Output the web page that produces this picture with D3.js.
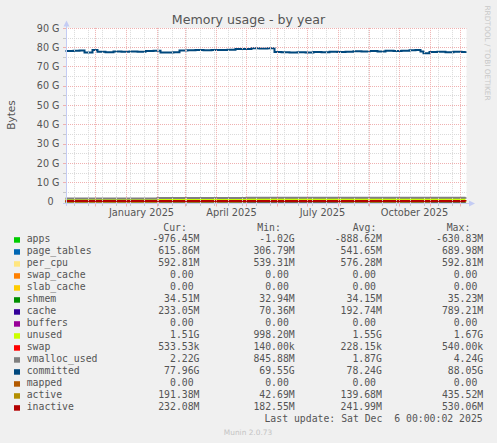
<!DOCTYPE html>
<html>
<head>
<meta charset="utf-8">
<script src="https://cdn.jsdelivr.net/npm/d3@7"></script>
<style>
body { margin: 0; background: #f0f0f0; }
text { white-space: pre; }
</style>
</head>
<body>
<div id="chart"></div>
<script>
// values in G (1e9 bytes)

// committed (the only line far away from zero)
const committedDays = ["2024-11-01","2024-11-09","2024-11-15","2024-11-20","2024-11-25","2024-11-28",
  "2024-12-03","2024-12-11","2024-12-19","2024-12-27","2025-01-04","2025-01-12","2025-01-20","2025-01-28",
  "2025-02-04","2025-02-11","2025-02-17","2025-02-23","2025-03-03","2025-03-11","2025-03-19","2025-03-27",
  "2025-04-04","2025-04-12","2025-04-20","2025-04-28","2025-05-06","2025-05-14","2025-05-22","2025-05-27",
  "2025-05-29","2025-06-05","2025-06-13","2025-06-21","2025-06-29","2025-07-07","2025-07-15","2025-07-23",
  "2025-07-31","2025-08-08","2025-08-16","2025-08-24","2025-09-01","2025-09-09","2025-09-17","2025-09-25",
  "2025-10-03","2025-10-11","2025-10-17","2025-10-22","2025-10-25","2025-10-31","2025-11-08","2025-11-16",
  "2025-11-24","2025-12-02","2025-12-06"];
const committedG = [78.0, 78.1, 78.3, 77.2, 77.3, 78.5,
  77.6, 77.4, 77.8, 77.6, 77.8, 77.7, 78.0, 78.1,
  77.3, 77.2, 77.4, 78.3, 78.4, 78.5, 78.4, 78.6,
  78.5, 78.7, 79.0, 79.1, 79.4, 79.3, 79.5, 79.5,
  77.5, 77.4, 77.2, 77.4, 77.3, 77.5, 77.4, 77.6,
  77.5, 77.7, 77.9, 77.8, 78.0, 77.8, 78.1, 78.0,
  78.2, 78.4, 78.5, 77.8, 76.9, 77.5, 77.6, 77.4,
  77.6, 77.5, 77.96];

// the small series that sit near zero
const stackDays = ["2024-11-01","2025-02-01","2025-05-01","2025-08-01","2025-11-01","2025-12-06"];
const apps        = [-0.95, -0.90, -0.87, -0.88, -0.92, -0.98];
const pageTables  = [0.45, 0.52, 0.58, 0.55, 0.60, 0.62];
const perCpu      = [0.55, 0.57, 0.58, 0.58, 0.59, 0.59];
const swapCache   = [0, 0, 0, 0, 0, 0];
const slabCache   = [0, 0, 0, 0, 0, 0];
const shmem       = [0.033, 0.034, 0.034, 0.034, 0.035, 0.035];
const cache       = [0.15, 0.20, 0.18, 0.19, 0.21, 0.23];
const buffers     = [0, 0, 0, 0, 0, 0];
const unused      = [1.50, 1.55, 1.60, 1.56, 1.52, 1.51];
const swap        = [0.0002, 0.0002, 0.0002, 0.0002, 0.0003, 0.0005];
const vmallocUsed = [1.5, 1.8, 2.0, 1.9, 2.0, 2.2];
const mapped      = [0, 0, 0, 0, 0, 0];
const active      = [0.12, 0.14, 0.14, 0.13, 0.15, 0.19];
const inactive    = [0.22, 0.24, 0.25, 0.24, 0.24, 0.23];

const seriesNames = ["apps","page_tables","per_cpu","swap_cache","slab_cache","shmem","cache","buffers",
  "unused","swap","vmalloc_used","committed","mapped","active","inactive"];
const legendCur = ["-976.45M","615.86M","592.81M","0.00 ","0.00 ","34.51M","233.05M","0.00 ",
  "1.51G","533.53k","2.22G","77.96G","0.00 ","191.38M","232.08M"];
const legendMin = ["-1.02G","306.79M","539.31M","0.00 ","0.00 ","32.94M","70.36M","0.00 ",
  "998.20M","140.00k","845.88M","69.55G","0.00 ","42.69M","182.55M"];
const legendAvg = ["-888.62M","541.65M","576.28M","0.00 ","0.00 ","34.15M","192.74M","0.00 ",
  "1.55G","228.15k","1.87G","78.24G","0.00 ","139.68M","241.99M"];
const legendMax = ["-630.83M","689.98M","592.81M","0.00 ","0.00 ","35.23M","789.21M","0.00 ",
  "1.67G","540.00k","4.24G","88.05G","0.00 ","435.52M","530.06M"];

const monthLabels = ["January 2025", "April 2025", "July 2025", "October 2025"];
const monthLabelDays = ["2025-01-16", "2025-04-16", "2025-07-16", "2025-10-16"];

// munin colours, in legend order
const colors = {
  apps: "#00cc00", page_tables: "#0066b3", per_cpu: "#ffe680", swap_cache: "#ff8000",
  slab_cache: "#ffcc00", shmem: "#008f00", cache: "#330099", buffers: "#990099",
  unused: "#ccff00", swap: "#ff0000", vmalloc_used: "#808080", committed: "#00487d",
  mapped: "#b35a00", active: "#b38f00", inactive: "#b30000"
};

let boxWidth = 497;
let boxHeight = 443;

let svg = d3.select("#chart")
  .append("svg")
  .attr("width", boxWidth)
  .attr("height", boxHeight)
  .style("display", "block");

svg.append("rect")
  .attr("width", boxWidth).attr("height", boxHeight)
  .attr("fill", "#f0f0f0");

let parse = d3.utcParse("%Y-%m-%d");

// scales: 400 days over 400 px
let x = d3.scaleUtc()
  .domain([parse("2024-11-01"), parse("2025-12-06")])
  .range([65.5, 465.5]);

let y = d3.scaleLinear()
  .domain([-0.93, 90])
  .range([203.3, 27.9]);

// plot background
svg.append("rect")
  .attr("x", 66).attr("y", y(90))
  .attr("width", 400.5).attr("height", y(-0.93) - y(90))
  .attr("fill", "#ffffff");

// stacked areas
let areaKeys = seriesNames.slice(0, 10);
let areaValues = [apps, pageTables, perCpu, swapCache, slabCache, shmem, cache, buffers, unused, swap];
let rows = stackDays.map(function(d, i) {
  let r = { date: parse(d) };
  areaKeys.forEach(function(k, j) { r[k] = areaValues[j][i]; });
  return r;
});
let stacked = d3.stack().keys(areaKeys)(rows);

let area = d3.area()
  .x(d => x(d.data.date))
  .y0(d => y(d[0]))
  .y1(d => y(d[1]))
  .curve(d3.curveStepAfter);

svg.append("g").selectAll("path")
  .data(stacked)
  .enter()
  .append("path")
  .attr("d", area)
  .attr("fill", d => colors[d.key]);

// LINE2 series
let lineKeys = ["vmalloc_used", "mapped", "active", "inactive"];
let lineValues = [vmallocUsed, mapped, active, inactive];
let line = d3.line()
  .x(d => x(d.date))
  .y(d => y(d.v))
  .curve(d3.curveStepAfter);

lineKeys.forEach(function(k, j) {
  svg.append("path")
    .datum(stackDays.map((d, i) => ({ date: parse(d), v: lineValues[j][i] })))
    .attr("d", line)
    .attr("fill", "none")
    .attr("stroke", colors[k])
    .attr("stroke-width", 2);
});

svg.append("path")
  .datum(committedDays.map((d, i) => ({ date: parse(d), v: committedG[i] })))
  .attr("d", line)
  .attr("fill", "none")
  .attr("stroke", colors.committed)
  .attr("stroke-width", 2);

// grid, drawn over the data like rrdtool does
let grid = svg.append("g").attr("stroke-dasharray", "1,1").attr("stroke-width", 1);
let minorY = d3.range(5, 90, 10);
let majorY = d3.range(10, 91, 10);
// minor vertical grid every two weeks, major on the first of each month
let minorX = d3.utcDay.range(parse("2024-11-10"), parse("2025-12-06"), 14);
let majorX = d3.utcMonth.range(parse("2024-12-01"), parse("2025-12-02"));

grid.selectAll(".hmin").data(minorY).enter().append("line")
  .attr("x1", 66).attr("x2", 466.5)
  .attr("y1", d => Math.round(y(d)) + 0.5).attr("y2", d => Math.round(y(d)) + 0.5)
  .attr("stroke", "#dadada");
grid.selectAll(".vmin").data(minorX).enter().append("line")
  .attr("x1", d => Math.floor(x(d)) + 0.5).attr("x2", d => Math.floor(x(d)) + 0.5)
  .attr("y1", y(90)).attr("y2", y(-0.93))
  .attr("stroke", "#dadada");
grid.selectAll(".hmaj").data(majorY).enter().append("line")
  .attr("x1", 66).attr("x2", 466.5)
  .attr("y1", d => Math.round(y(d)) + 0.5).attr("y2", d => Math.round(y(d)) + 0.5)
  .attr("stroke", "#efb0b0");
grid.selectAll(".vmaj").data(majorX).enter().append("line")
  .attr("x1", d => Math.floor(x(d)) + 0.5).attr("x2", d => Math.floor(x(d)) + 0.5)
  .attr("y1", y(90)).attr("y2", y(-0.93))
  .attr("stroke", "#efb0b0");

// small ticks outside the plot
let ticks = svg.append("g").attr("stroke-width", 1);
minorX.forEach(function(d) {
  ticks.append("line").attr("x1", Math.floor(x(d)) + 0.5).attr("x2", Math.floor(x(d)) + 0.5)
    .attr("y1", 203.5).attr("y2", 206).attr("stroke", "#c8c8c8");
});
majorX.forEach(function(d) {
  ticks.append("line").attr("x1", Math.floor(x(d)) + 0.5).attr("x2", Math.floor(x(d)) + 0.5)
    .attr("y1", 203.5).attr("y2", 206.5).attr("stroke", "#efb0b0");
});
majorY.concat(minorY).forEach(function(d) {
  ticks.append("line").attr("x1", 63).attr("x2", 66)
    .attr("y1", Math.round(y(d)) + 0.5).attr("y2", Math.round(y(d)) + 0.5)
    .attr("stroke", d % 10 === 0 ? "#efb0b0" : "#c8c8c8");
});

// axes lines and arrows
let axisColor = "#c4ccf4";
svg.append("line").attr("x1", 66.5).attr("x2", 66.5).attr("y1", 24).attr("y2", 206)
  .attr("stroke", axisColor);
svg.append("line").attr("x1", 63).attr("x2", 470).attr("y1", 203.5).attr("y2", 203.5)
  .attr("stroke", axisColor);
svg.append("path").attr("d", "M63.5,26.5 L66.5,20.5 L69.5,26.5 Z").attr("fill", axisColor);
svg.append("path").attr("d", "M469,200.5 L475,203.5 L469,206.5 Z").attr("fill", axisColor);

// y tick labels
svg.append("g").selectAll("text")
  .data(d3.range(0, 91, 10))
  .enter()
  .append("text")
  .attr("x", d => d === 0 ? 53.5 : 59.5)
  .attr("y", d => y(d) + 3.6)
  .attr("text-anchor", "end")
  .attr("font-family", "DejaVu Sans")
  .attr("font-size", "9.6px")
  .attr("fill", "#555")
  .text(d => d === 0 ? "0" : d + " G");

// x tick labels
svg.append("g").selectAll("text")
  .data(monthLabelDays)
  .enter()
  .append("text")
  .attr("x", d => x(parse(d)))
  .attr("y", 215.5)
  .attr("text-anchor", "middle")
  .attr("font-family", "DejaVu Sans")
  .attr("font-size", "9.8px")
  .attr("fill", "#555")
  .text((d, i) => monthLabels[i]);

// title and axis label
svg.append("text")
  .attr("x", 248.5).attr("y", 24)
  .attr("text-anchor", "middle")
  .attr("font-family", "DejaVu Sans")
  .attr("font-size", "12.6px")
  .attr("fill", "#555")
  .text("Memory usage - by year");

svg.append("text")
  .attr("transform", "translate(14.5, 115) rotate(-90)")
  .attr("text-anchor", "middle")
  .attr("font-family", "DejaVu Sans")
  .attr("font-size", "10.5px")
  .attr("fill", "#555")
  .text("Bytes");

svg.append("text")
  .attr("transform", "translate(485, 53) rotate(90)")
  .attr("text-anchor", "middle")
  .attr("font-family", "DejaVu Sans")
  .attr("font-size", "7.4px")
  .attr("fill", "#c8c8c8")
  .text("RRDTOOL / TOBI OETIKER");

// legend
let mono = "DejaVu Sans Mono";
let legend = svg.append("g")
  .attr("font-family", mono)
  .attr("font-size", "9.8px")
  .attr("fill", "#555");

[["Cur:", 163.3], ["Min:", 257.3], ["Avg:", 352.7], ["Max:", 446.7]].forEach(function(h) {
  legend.append("text").attr("x", h[1]).attr("y", 230.5).text(h[0]);
});

let rowY = i => 242.2 + 12 * i;

legend.selectAll("rect")
  .data(seriesNames)
  .enter()
  .append("rect")
  .attr("x", 14).attr("y", (d, i) => rowY(i) - 5)
  .attr("width", 6).attr("height", 5.5)
  .attr("fill", d => colors[d]);

legend.selectAll(".name")
  .data(seriesNames)
  .enter()
  .append("text")
  .attr("x", 26.7).attr("y", (d, i) => rowY(i))
  .text(d => d);

[[legendCur, 199.5], [legendMin, 294.7], [legendAvg, 381.9], [legendMax, 483.2]].forEach(function(col) {
  legend.append("g").selectAll("text")
    .data(col[0])
    .enter()
    .append("text")
    .attr("x", col[1]).attr("y", (d, i) => rowY(i))
    .attr("text-anchor", "end")
    .text(d => d);
});

legend.append("text")
  .attr("x", 482.7).attr("y", 421.8)
  .attr("text-anchor", "end")
  .text("Last update: Sat Dec  6 00:00:02 2025");

svg.append("text")
  .attr("x", 248).attr("y", 434.5)
  .attr("text-anchor", "middle")
  .attr("font-family", "DejaVu Sans")
  .attr("font-size", "7.4px")
  .attr("fill", "#c4c4c4")
  .text("Munin 2.0.73");
</script>
</body>
</html>
